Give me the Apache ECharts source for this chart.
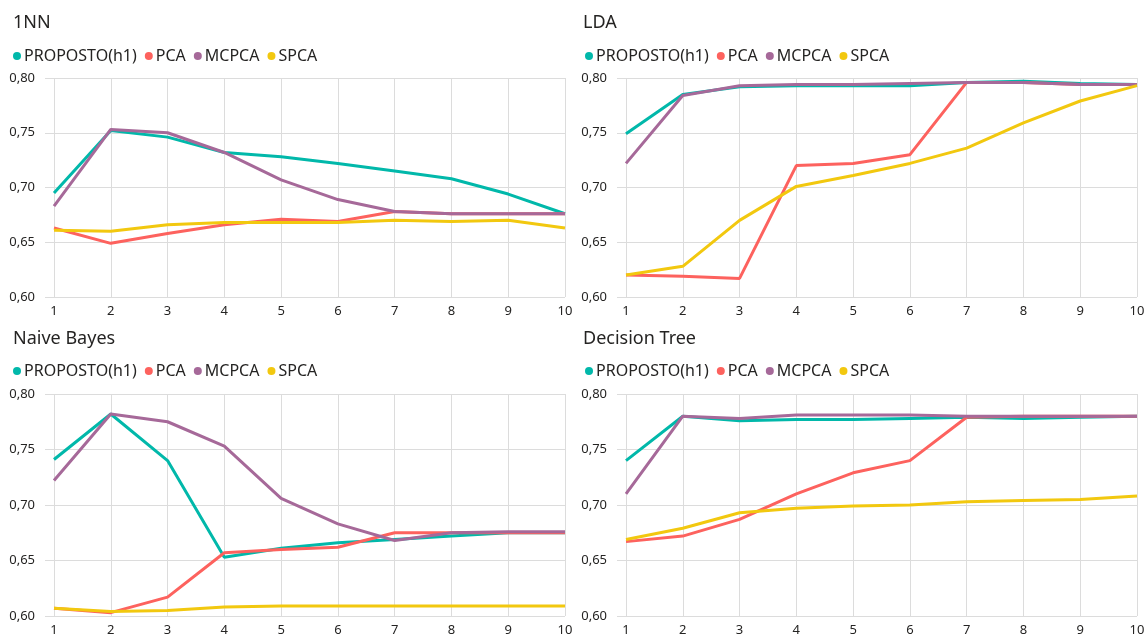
<!DOCTYPE html>
<html>
<head>
<meta charset="utf-8">
<script src="https://cdn.jsdelivr.net/npm/echarts@6/dist/echarts.min.js"></script>
<style>
  html, body { margin: 0; padding: 0; background: #fff; }
  #chart { width: 1144px; height: 636px; }
</style>
</head>
<body>
<div id="chart"></div>
<script>
// Number of components (x axis) shared by every panel
const components = ['1', '2', '3', '4', '5', '6', '7', '8', '9', '10'];
const seriesNames = ['PROPOSTO(h1)', 'PCA', 'MCPCA', 'SPCA'];
const yTicks = { min: 0.6, max: 0.8, step: 0.05 };

// Accuracy per classifier, one array per method
const nnProposto = [0.695, 0.752, 0.746, 0.732, 0.728, 0.722, 0.715, 0.708, 0.694, 0.676];
const nnPca      = [0.663, 0.649, 0.658, 0.666, 0.671, 0.669, 0.678, 0.676, 0.676, 0.676];
const nnMcpca    = [0.683, 0.753, 0.750, 0.732, 0.707, 0.689, 0.678, 0.676, 0.676, 0.676];
const nnSpca     = [0.661, 0.660, 0.666, 0.668, 0.668, 0.668, 0.670, 0.669, 0.670, 0.663];

const ldaProposto = [0.749, 0.785, 0.792, 0.793, 0.793, 0.793, 0.796, 0.797, 0.795, 0.794];
const ldaPca      = [0.620, 0.619, 0.617, 0.720, 0.722, 0.730, 0.796, 0.796, 0.794, 0.794];
const ldaMcpca    = [0.722, 0.784, 0.793, 0.794, 0.794, 0.795, 0.796, 0.796, 0.794, 0.794];
const ldaSpca     = [0.620, 0.628, 0.670, 0.701, 0.711, 0.722, 0.736, 0.759, 0.779, 0.793];

const nbProposto = [0.741, 0.782, 0.740, 0.653, 0.661, 0.666, 0.669, 0.672, 0.675, 0.675];
const nbPca      = [0.607, 0.603, 0.617, 0.657, 0.660, 0.662, 0.675, 0.675, 0.675, 0.675];
const nbMcpca    = [0.722, 0.782, 0.775, 0.753, 0.706, 0.683, 0.668, 0.675, 0.676, 0.676];
const nbSpca     = [0.607, 0.604, 0.605, 0.608, 0.609, 0.609, 0.609, 0.609, 0.609, 0.609];

const dtProposto = [0.740, 0.780, 0.776, 0.777, 0.777, 0.778, 0.779, 0.778, 0.779, 0.780];
const dtPca      = [0.667, 0.672, 0.687, 0.710, 0.729, 0.740, 0.779, 0.780, 0.780, 0.780];
const dtMcpca    = [0.710, 0.780, 0.778, 0.781, 0.781, 0.781, 0.780, 0.780, 0.780, 0.780];
const dtSpca     = [0.669, 0.679, 0.693, 0.697, 0.699, 0.700, 0.703, 0.704, 0.705, 0.708];

const panels = [
  { title: '1NN',           data: [nnProposto, nnPca, nnMcpca, nnSpca] },
  { title: 'LDA',           data: [ldaProposto, ldaPca, ldaMcpca, ldaSpca] },
  { title: 'Naive Bayes',   data: [nbProposto, nbPca, nbMcpca, nbSpca] },
  { title: 'Decision Tree', data: [dtProposto, dtPca, dtMcpca, dtSpca] }
];

const colors = ['#01B8AA', '#FD625E', '#A66999', '#F2C80F'];
const FONT = '"Noto Sans", sans-serif';
const gridColor = '#dcdcdc';
const textColor = '#252423';

// Panel frames: horizontal offset, plot box and the rows of title and legend
const layout = [
  { x: 0,   titleDx: 8, gridLeft: 54,  gridRight: 579, top: 78,  height: 219, titleTop: 9,   legendTop: 48 },
  { x: 572, titleDx: 6, gridLeft: 626, gridRight: 7,   top: 78,  height: 219, titleTop: 9,   legendTop: 48 },
  { x: 0,   titleDx: 8, gridLeft: 54,  gridRight: 579, top: 394, height: 222, titleTop: 325, legendTop: 363 },
  { x: 572, titleDx: 6, gridLeft: 626, gridRight: 7,   top: 394, height: 222, titleTop: 325, legendTop: 363 }
];

const fmt = v => v.toFixed(2).replace('.', ',');

const option = {
  animation: false,
  color: colors,
  textStyle: { fontFamily: FONT },
  title: [], legend: [], grid: [], xAxis: [], yAxis: [], series: []
};

panels.forEach((p, i) => {
  const L = layout[i];
  option.title.push({
    text: p.title,
    left: L.x + L.titleDx,
    top: L.titleTop,
    textStyle: { fontFamily: FONT, fontSize: 18, fontWeight: 'normal', color: textColor }
  });
  option.legend.push({
    data: seriesNames,
    left: L.x + 13,
    top: L.legendTop,
    icon: 'circle',
    itemWidth: 8,
    itemHeight: 8,
    itemGap: 8,
    padding: 0,
    textStyle: { fontFamily: FONT, fontSize: 16, color: textColor, padding: [0, 0, 0, -2] }
  });
  // Plot boxes are fixed; labels at the page edge may be clipped
  option.grid.push({
    left: L.gridLeft, right: L.gridRight, top: L.top, height: L.height,
    outerBoundsMode: 'none'
  });
  option.xAxis.push({
    type: 'category',
    gridIndex: i,
    data: components,
    boundaryGap: false,
    axisLine: { show: false },
    axisTick: { show: false },
    splitLine: { show: true, lineStyle: { color: gridColor, width: 1 } },
    axisLabel: { fontFamily: FONT, fontSize: 13, color: textColor, margin: 8 }
  });
  option.yAxis.push({
    type: 'value',
    gridIndex: i,
    min: yTicks.min,
    max: yTicks.max,
    interval: yTicks.step,
    axisLine: { show: false },
    axisTick: { show: true, length: 9, lineStyle: { color: gridColor, width: 1 } },
    splitLine: { show: true, lineStyle: { color: gridColor, width: 1 } },
    axisLabel: { fontFamily: FONT, fontSize: 13, color: textColor, margin: 19, formatter: fmt }
  });
  p.data.forEach((values, k) => {
    option.series.push({
      name: seriesNames[k],
      type: 'line',
      xAxisIndex: i,
      yAxisIndex: i,
      data: values,
      symbol: 'none',
      lineStyle: { width: 3, color: colors[k] },
      itemStyle: { color: colors[k] },
      z: 2 + k
    });
  });
});

const chart = echarts.init(document.getElementById('chart'), null, { renderer: 'canvas' });
chart.setOption(option);
</script>
</body>
</html>
